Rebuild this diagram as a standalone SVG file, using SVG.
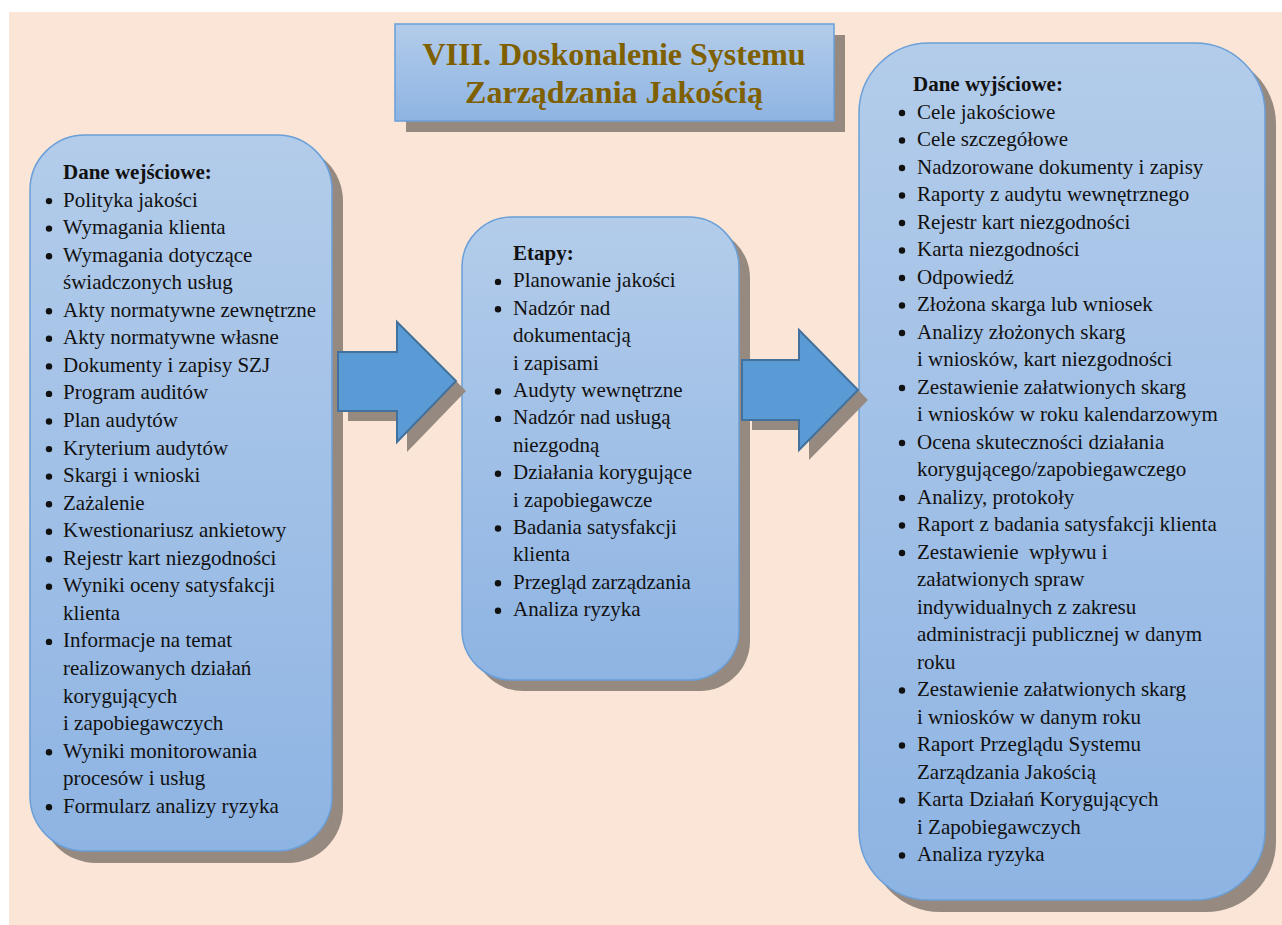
<svg xmlns="http://www.w3.org/2000/svg" width="1282" height="925" viewBox="0 0 1282 925">
<defs>
<linearGradient id="boxg" x1="0" y1="0" x2="0" y2="1">
<stop offset="0" stop-color="#B3CCEA"/>
<stop offset="1" stop-color="#8EB4E3"/>
</linearGradient>
<style>
.bg{fill:#FBE5D7}
.sh{fill:#968A80}
.box{fill:url(#boxg);stroke:#6A9FD8;stroke-width:1.5}
.arr{fill:#5B9BD5;stroke:#41719C;stroke-width:2}
.t{font-family:"Liberation Serif","Times New Roman",serif;font-size:21px;fill:#111}
.h{font-weight:bold}
.b{fill:#111}
.title{font-family:"Liberation Serif","Times New Roman",serif;font-size:32px;font-weight:bold;fill:#7F6000;text-anchor:middle}
</style>
<clipPath id="clipL"><rect x="30" y="135" width="286" height="716"/></clipPath>
</defs>
<rect class="bg" x="9" y="12" width="1273" height="913"/>

<g id="title">
<rect class="sh" x="406" y="35" width="439" height="97"/>
<rect class="box" x="395" y="24" width="439" height="97"/>
<text class="title" x="614" y="65">VIII. Doskonalenie Systemu</text>
<text class="title" x="614" y="103">Zarządzania Jakością</text>
</g>

<g id="input">
<rect class="sh" x="41" y="146" width="302" height="717" rx="55"/>
<rect class="box" x="30" y="135" width="302" height="716" rx="55"/>
<g class="b">
<circle cx="49" cy="201.1" r="3.2"/><circle cx="49" cy="228.6" r="3.2"/><circle cx="49" cy="256.2" r="3.2"/>
<circle cx="49" cy="311.3" r="3.2"/><circle cx="49" cy="338.8" r="3.2"/><circle cx="49" cy="366.4" r="3.2"/>
<circle cx="49" cy="393.9" r="3.2"/><circle cx="49" cy="421.5" r="3.2"/><circle cx="49" cy="449.1" r="3.2"/>
<circle cx="49" cy="476.6" r="3.2"/><circle cx="49" cy="504.2" r="3.2"/><circle cx="49" cy="531.7" r="3.2"/>
<circle cx="49" cy="559.3" r="3.2"/><circle cx="49" cy="586.8" r="3.2"/><circle cx="49" cy="641.9" r="3.2"/>
<circle cx="49" cy="752.2" r="3.2"/><circle cx="49" cy="807.3" r="3.2"/>
</g>
<g class="t" clip-path="url(#clipL)">
<text class="h" x="63" y="179">Dane wejściowe:</text>
<text x="63" y="206.6">Polityka jakości</text>
<text x="63" y="234.1">Wymagania klienta</text>
<text x="63" y="261.7">Wymagania dotyczące</text>
<text x="63" y="289.2">świadczonych usług</text>
<text x="63" y="316.8">Akty normatywne zewnętrzne</text>
<text x="63" y="344.3">Akty normatywne własne</text>
<text x="63" y="371.9">Dokumenty i zapisy SZJ</text>
<text x="63" y="399.4">Program auditów</text>
<text x="63" y="427">Plan audytów</text>
<text x="63" y="454.6">Kryterium audytów</text>
<text x="63" y="482.1">Skargi i wnioski</text>
<text x="63" y="509.7">Zażalenie</text>
<text x="63" y="537.2">Kwestionariusz ankietowy</text>
<text x="63" y="564.8">Rejestr kart niezgodności</text>
<text x="63" y="592.3">Wyniki oceny satysfakcji</text>
<text x="63" y="619.9">klienta</text>
<text x="63" y="647.4">Informacje na temat</text>
<text x="63" y="675">realizowanych działań</text>
<text x="63" y="702.6">korygujących</text>
<text x="63" y="730.1">i zapobiegawczych</text>
<text x="63" y="757.7">Wyniki monitorowania</text>
<text x="63" y="785.2">procesów i usług</text>
<text x="63" y="812.8">Formularz analizy ryzyka</text>
</g>
</g>

<g id="stages">
<rect class="sh" x="473" y="228" width="277" height="463" rx="50"/>
<rect class="box" x="462" y="217" width="277" height="463" rx="50"/>
<g class="b">
<circle cx="498" cy="281.9" r="3.2"/><circle cx="498" cy="309.3" r="3.2"/><circle cx="498" cy="391.5" r="3.2"/>
<circle cx="498" cy="418.9" r="3.2"/><circle cx="498" cy="473.7" r="3.2"/><circle cx="498" cy="528.5" r="3.2"/>
<circle cx="498" cy="583.3" r="3.2"/><circle cx="498" cy="610.7" r="3.2"/>
</g>
<g class="t">
<text class="h" x="513" y="260">Etapy:</text>
<text x="513" y="287.4">Planowanie jakości</text>
<text x="513" y="314.8">Nadzór nad</text>
<text x="513" y="342.2">dokumentacją</text>
<text x="513" y="369.6">i zapisami</text>
<text x="513" y="397">Audyty wewnętrzne</text>
<text x="513" y="424.4">Nadzór nad usługą</text>
<text x="513" y="451.8">niezgodną</text>
<text x="513" y="479.2">Działania korygujące</text>
<text x="513" y="506.6">i zapobiegawcze</text>
<text x="513" y="534">Badania satysfakcji</text>
<text x="513" y="561.4">klienta</text>
<text x="513" y="588.8">Przegląd zarządzania</text>
<text x="513" y="616.2">Analiza ryzyka</text>
</g>
</g>

<g id="output">
<rect class="sh" x="870" y="54" width="406" height="858" rx="70"/>
<rect class="box" x="859" y="43" width="406" height="857" rx="70"/>
<g class="b">
<circle cx="902" cy="113" r="3.2"/><circle cx="902" cy="140.5" r="3.2"/><circle cx="902" cy="168" r="3.2"/>
<circle cx="902" cy="195.5" r="3.2"/><circle cx="902" cy="223" r="3.2"/><circle cx="902" cy="250.5" r="3.2"/>
<circle cx="902" cy="278" r="3.2"/><circle cx="902" cy="305.5" r="3.2"/><circle cx="902" cy="333" r="3.2"/>
<circle cx="902" cy="388" r="3.2"/><circle cx="902" cy="443" r="3.2"/><circle cx="902" cy="498" r="3.2"/>
<circle cx="902" cy="525.5" r="3.2"/><circle cx="902" cy="553" r="3.2"/><circle cx="902" cy="690.5" r="3.2"/>
<circle cx="902" cy="745.5" r="3.2"/><circle cx="902" cy="800.5" r="3.2"/><circle cx="902" cy="855.5" r="3.2"/>
</g>
<g class="t">
<text class="h" x="913" y="91">Dane wyjściowe:</text>
<text x="917" y="118.5">Cele jakościowe</text>
<text x="917" y="146">Cele szczegółowe</text>
<text x="917" y="173.5">Nadzorowane dokumenty i zapisy</text>
<text x="917" y="201">Raporty z audytu wewnętrznego</text>
<text x="917" y="228.5">Rejestr kart niezgodności</text>
<text x="917" y="256">Karta niezgodności</text>
<text x="917" y="283.5">Odpowiedź</text>
<text x="917" y="311">Złożona skarga lub wniosek</text>
<text x="917" y="338.5">Analizy złożonych skarg</text>
<text x="917" y="366">i wniosków, kart niezgodności</text>
<text x="917" y="393.5">Zestawienie załatwionych skarg</text>
<text x="917" y="421">i wniosków w roku kalendarzowym</text>
<text x="917" y="448.5">Ocena skuteczności działania</text>
<text x="917" y="476">korygującego/zapobiegawczego</text>
<text x="917" y="503.5">Analizy, protokoły</text>
<text x="917" y="531">Raport z badania satysfakcji klienta</text>
<text x="917" y="558.5" xml:space="preserve">Zestawienie  wpływu i</text>
<text x="917" y="586">załatwionych spraw</text>
<text x="917" y="613.5">indywidualnych z zakresu</text>
<text x="917" y="641">administracji publicznej w danym</text>
<text x="917" y="668.5">roku</text>
<text x="917" y="696">Zestawienie załatwionych skarg</text>
<text x="917" y="723.5">i wniosków w danym roku</text>
<text x="917" y="751">Raport Przeglądu Systemu</text>
<text x="917" y="778.5">Zarządzania Jakością</text>
<text x="917" y="806">Karta Działań Korygujących</text>
<text x="917" y="833.5">i Zapobiegawczych</text>
<text x="917" y="861">Analiza ryzyka</text>
</g>
</g>

<g id="connectors">
<polygon class="sh" points="348,362 407,362 407,332 466,391 407,452 407,421 348,421"/>
<polygon class="arr" points="338,352 397,352 397,322 456,381 397,442 397,411 338,411"/>
<polygon class="sh" points="752,370 809,370 809,340 868,400 809,460 809,430 752,430"/>
<polygon class="arr" points="742,360 799,360 799,330 858,390 799,450 799,420 742,420"/>
</g>
</svg>
